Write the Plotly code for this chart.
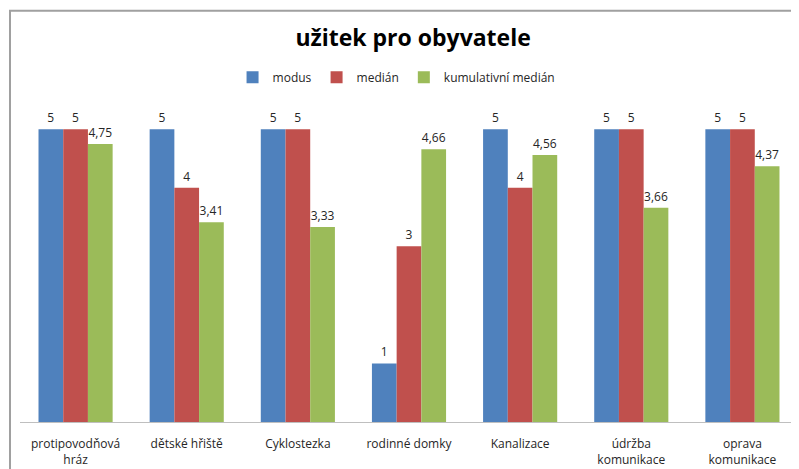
import plotly.graph_objects as go

categories = ["protipovodňová<br>hráz", "dětské hřiště", "Cyklostezka", "rodinné domky",
              "Kanalizace", "údržba<br>komunikace", "oprava<br>komunikace"]
modus = [5, 5, 5, 1, 5, 5, 5]
median = [5, 4, 5, 3, 4, 5, 5]
kum_median = [4.75, 3.41, 3.33, 4.66, 4.56, 3.66, 4.37]

series = [("modus", modus, "#4F81BD"),
          ("medián", median, "#C0504D"),
          ("kumulativní medián", kum_median, "#9BBB59")]

FONT = "Open Sans"
fig = go.Figure()
for name, vals, color in series:
    fig.add_trace(go.Bar(
        name=name, x=categories, y=vals, marker_color=color, marker_line_width=0,
        text=[f"{v:g}".replace(".", ",") for v in vals], textposition="outside",
        textfont=dict(family=FONT, size=12, color="#262626"), cliponaxis=False,
    ))

fig.update_layout(
    width=799, height=469,
    margin=dict(l=12, r=9, t=92, b=52),
    paper_bgcolor="white", plot_bgcolor="white",
    barmode="group", bargap=0.333, bargroupgap=0,
    title=dict(text="<b>užitek pro obyvatele</b>", x=0.507, xanchor="center", y=0.936, yanchor="middle",
               font=dict(family=FONT, size=23, color="black")),
    legend=dict(orientation="h", x=0.484, xanchor="center", y=1.071, yanchor="middle",
                font=dict(family=FONT, size=12, color="#262626"), itemwidth=30,
                traceorder="normal"),
    showlegend=True,
    font=dict(family=FONT, size=12, color="#262626"),
)
fig.update_xaxes(showline=True, linecolor="#BFBFBF", linewidth=1, ticks="", showgrid=False,
                 ticklabelstandoff=11,
                 tickfont=dict(family=FONT, size=12, color="#262626"))
fig.update_yaxes(range=[0, 5.5], visible=False, showgrid=False)

fig.add_shape(type="rect", xref="paper", yref="paper",
              x0=(10 - 20) / 778, x1=1.05, y0=-0.3, y1=(425 - 10) / 325,
              line=dict(color="#A0A0A0", width=2), fillcolor="rgba(0,0,0,0)", layer="below")

fig.write_html("out.html")
